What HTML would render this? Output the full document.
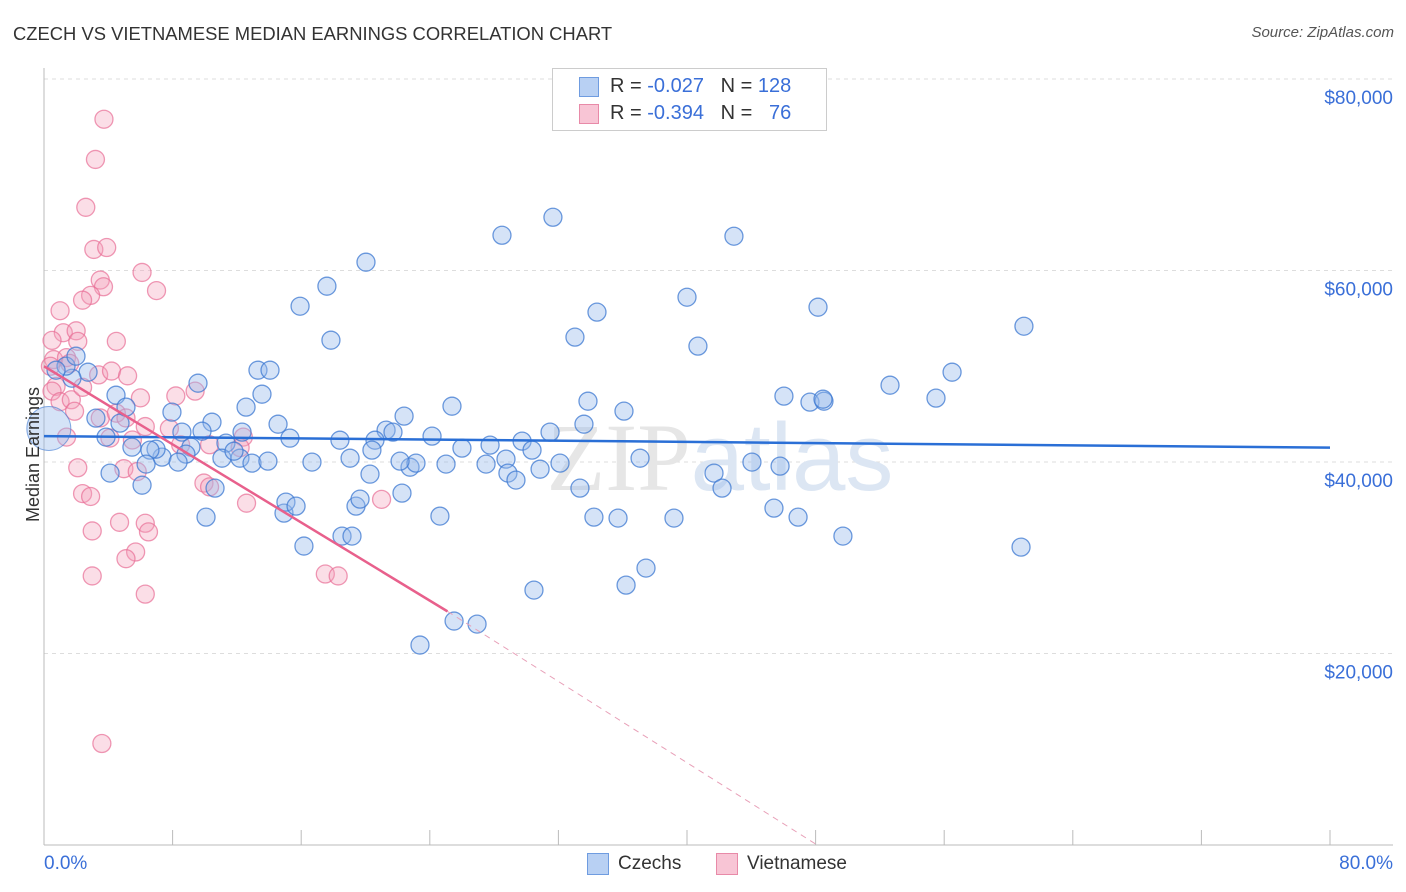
<!DOCTYPE html>
<html><head><meta charset="utf-8"><style>
body{margin:0;background:#fff;font-family:"Liberation Sans",sans-serif;}
#wrap{position:relative;width:1406px;height:892px;overflow:hidden}
.t{position:absolute;white-space:nowrap}
</style></head><body><div id="wrap">
<div class="t" style="left:13px;top:23px;font-size:18.4px;color:#333">CZECH VS VIETNAMESE MEDIAN EARNINGS CORRELATION CHART</div>
<div class="t" style="right:12px;top:24px;font-size:15px;color:#555;font-style:italic">Source: ZipAtlas.com</div>
<svg id="svg" width="1406" height="892" style="position:absolute;left:0;top:0"></svg>
</div>
<script>
const yTicks=[20000,40000,60000,80000];
const yTickLabels=["$20,000","$40,000","$60,000","$80,000"];
const czX=[15.93,17.60,20.03,17.85,28.49,31.66,42.92,40.00,34.40,33.03,40.68,48.15,60.96,56.49,52.63,55.49,46.03,47.65,48.52,48.46,33.84,36.08,25.38,22.40,21.28,21.71,20.59,18.41,16.67,15.30,14.56,13.56,12.57,13.31,14.06,9.58,10.45,7.96,8.58,9.83,11.32,12.32,12.19,11.07,12.94,13.93,11.82,9.14,8.83,7.34,6.97,6.59,6.35,5.47,4.73,3.86,3.23,2.74,1.74,1.37,1.99,0.75,4.48,5.10,4.11,6.10,8.34,10.08,10.64,14.93,15.05,15.68,16.17,18.54,19.16,19.41,19.66,20.28,22.27,22.77,23.14,25.01,24.63,24.14,26.00,27.75,27.50,28.74,29.74,30.36,28.86,29.36,30.86,32.10,31.48,33.59,33.34,34.21,35.71,37.08,37.45,36.21,30.48,25.51,26.94,23.39,39.19,41.68,42.18,44.04,45.79,45.41,46.91,49.70,60.78,19.04,20.40,22.15];
const czY=[56270,58360,60870,52720,63680,65560,63580,57210,55650,53040,52100,56170,54180,49380,48020,46670,46880,46250,46350,46560,46350,45310,45830,44790,43330,43120,42280,42280,39990,42490,43950,47080,45730,49590,49590,48230,44160,45210,43120,43220,41970,43120,40400,40400,39880,40090,41130,41550,40820,40510,41340,41240,39780,41550,44060,42600,44580,49380,48750,50010,51050,49590,46980,45730,38840,37580,39990,34240,37270,34660,35810,35390,31220,32260,32260,35390,36120,38730,36750,39460,39880,39780,34350,42700,41450,41760,39780,40300,42180,41240,38840,38110,39250,39880,43120,43950,37270,34240,34140,40400,28920,27140,26620,23390,23070,20880,34140,38840,37270,39990,39570,35180,34240,32260,31110,40400,41240,40090];
const viX=[3.73,3.2,2.6,3.1,3.9,6.1,3.5,3.7,2.9,7.0,2.4,1.0,1.2,2.0,0.5,2.1,4.5,0.6,1.4,1.6,0.4,0.75,0.5,1.0,1.7,1.9,2.4,3.4,4.2,5.2,6.0,3.5,4.5,5.1,4.1,5.5,6.3,7.8,8.2,9.4,8.5,10.3,12.4,12.2,2.1,4.97,5.8,2.4,2.9,9.95,10.3,12.6,4.7,6.3,3.0,6.5,5.7,5.1,3.0,17.5,18.3,6.3,3.6,21.0,1.4];
const viY=[75800,71600,66600,62200,62400,59800,59000,58300,57400,57900,56900,55800,53500,53700,52700,52600,52600,50700,50900,50300,50000,47900,47400,46300,46500,45300,47800,49100,49500,49000,46700,44600,45100,44600,42500,42300,43700,43500,46900,47400,41800,41800,42600,41500,39400,39300,39000,36700,36400,37800,37400,35700,33700,33600,32800,32700,30600,29900,28100,28300,28100,26200,10600,36100,42600];
const NS="http://www.w3.org/2000/svg";
const svg=document.getElementById('svg');
const X0=44,X1=1330,Y0=845,Y1=79;
const sx=v=>X0+(X1-X0)*v/80, sy=v=>Y0-(Y0-Y1)*v/80000;
function mk(tag,attrs,parent){const e=document.createElementNS(NS,tag);for(const k in attrs)e.setAttribute(k,attrs[k]);(parent||svg).appendChild(e);return e;}
yTicks.forEach((v,i)=>{const g=mk('line',{x1:44,x2:1393,y1:sy(v),y2:sy(v),stroke:'#ddd','stroke-dasharray':'4,4'});


const t=mk('text',{x:1393,y:sy(v)+25,'text-anchor':'end','font-size':19,fill:'#3a6fd8','font-family':'Liberation Sans, sans-serif'});t.textContent=yTickLabels[i];

});
const ax=mk('line',{x1:44,x2:44,y1:68,y2:845,stroke:'#bbb'});


const bx=mk('line',{x1:44,x2:1393,y1:845,y2:845,stroke:'#bbb'});


for(let i=0;i<=10;i++){const tk=mk('line',{x1:sx(i*8),x2:sx(i*8),y1:830,y2:845,stroke:'#bbb'});

}
const wm=mk('text',{x:720,y:490,'text-anchor':'middle','font-size':96,fill:'#e6e6e6','font-family':'Liberation Serif, serif'});wm.innerHTML='ZIP<tspan fill="#dce6f3" font-family="Liberation Sans, sans-serif">atlas</tspan>';


function pts(xs,ys,fill,stroke,name){xs.forEach((x,i)=>{const c=mk('circle',{cx:sx(x),cy:sy(ys[i]),r:9,fill:fill,stroke:stroke,'stroke-width':1.3});

});}
pts(viX,viY,'rgba(244,160,186,0.35)','rgba(232,110,150,0.7)','vietnamese-point');
pts(czX,czY,'rgba(150,185,235,0.4)','rgba(60,120,210,0.75)','czech-point');
const big=mk('circle',{cx:sx(0.3),cy:sy(43500),r:22,fill:'rgba(150,185,235,0.4)',stroke:'rgba(60,120,210,0.6)'});


const bl=mk('line',{x1:sx(0),y1:sy(42700),x2:sx(80),y2:sy(41500),stroke:'#2a6fd6','stroke-width':2.5});


const pl=mk('line',{x1:sx(0),y1:sy(50000),x2:sx(25.1),y2:sy(24400),stroke:'#e8608c','stroke-width':2.5});


const pd=mk('line',{x1:sx(25.1),y1:sy(24400),x2:sx(48.1),y2:sy(0),stroke:'#e8a0b8','stroke-width':1,'stroke-dasharray':'6,5'});


</script>
<div class="t" style="left:-34px;top:444px;font-size:18px;color:#333;transform:rotate(-90deg)">Median Earnings</div>
<div class="t" style="left:44px;top:853px;font-size:19px;color:#3a6fd8">0.0%</div>
<div class="t" style="right:13px;top:853px;font-size:19px;color:#3a6fd8">80.0%</div>
<div style="position:absolute;left:552px;top:68px;width:273px;height:61px;border:1px solid #ccc;background:#fff;font-size:20px">
 <div style="position:absolute;left:26px;top:8px;width:18px;height:18px;background:#b8d0f3;border:1px solid #6f9ce0"></div>
 <div class="t" style="left:57px;top:6px;color:#333">R = <span style="color:#3a6fd8">-0.027</span>&nbsp;&nbsp;&nbsp;N = <span style="color:#3a6fd8">128</span></div>
 <div style="position:absolute;left:26px;top:35px;width:18px;height:18px;background:#f8c5d5;border:1px solid #e88aa8"></div>
 <div class="t" style="left:57px;top:33px;color:#333">R = <span style="color:#3a6fd8">-0.394</span>&nbsp;&nbsp;&nbsp;N = &nbsp;&nbsp;<span style="color:#3a6fd8">76</span></div>
</div>
<div>
 <div style="position:absolute;left:587px;top:853px;width:20px;height:20px;background:#b8d0f3;border:1px solid #6f9ce0"></div>
 <div class="t" style="left:618px;top:853px;font-size:19px;color:#333">Czechs</div>
 <div style="position:absolute;left:716px;top:853px;width:20px;height:20px;background:#f8c5d5;border:1px solid #e88aa8"></div>
 <div class="t" style="left:747px;top:853px;font-size:19px;color:#333">Vietnamese</div>
</div>
</body></html>
